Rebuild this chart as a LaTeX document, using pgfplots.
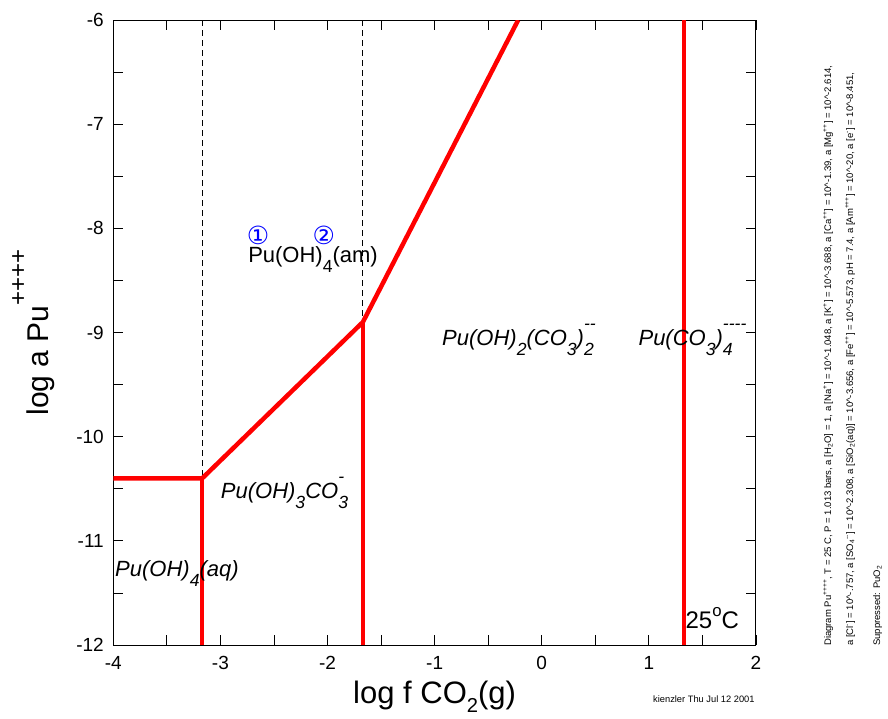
\documentclass[border=0pt]{standalone}
\usepackage{fontspec}
\setmainfont{Liberation Sans}
\newfontfamily\dejavu{DejaVu Sans}
\usepackage{graphicx}
\usepackage{pgfplots}
\pgfplotsset{compat=1.18}
\newcommand{\sub}[1]{\raisebox{-0.47em}{\scalebox{0.8}{#1}}}
\newcommand{\sups}[1]{\raisebox{0.72em}{\scalebox{0.8}{#1}}}
\newcommand{\subsup}[2]{\makebox[0pt][l]{\sub{#1}}\sups{#2}}
\begin{document}
\begin{tikzpicture}
\useasboundingbox (-113.3pt,-73pt) rectangle (774.7pt,645pt);
\begin{axis}[
  at={(0pt,0pt)}, anchor=south west,
  width=642.7pt, height=625pt, scale only axis,
  xmin=-4, xmax=2, ymin=-12, ymax=-6,
  xtick={-4,-3,-2,-1,0,1,2}, xticklabels={-4,-3,-2,-1,0,1,2},
  ytick={-12,-11,-10,-9,-8,-7,-6}, yticklabels={-12,-11,-10,-9,-8,-7,-6},
  minor x tick num=1, minor y tick num=1,
  tick align=inside,
  major tick length=10pt, minor tick length=10pt,
  every tick/.style={black, line width=0.8pt},
  axis line style={line width=1pt},
  tick label style={font=\fontsize{19}{22}\selectfont},
  xticklabel style={yshift=-8pt},
  yticklabel style={xshift=-6pt},
  clip mode=individual,
  xlabel={log f CO\raisebox{-0.28em}{\scalebox{0.65}{2}}(g)},
  x label style={font=\fontsize{31}{34}\selectfont, at={(axis description cs:0.5,-0.094)}, anchor=base, inner sep=0pt},
  ylabel={log a Pu\raisebox{0.75em}{\scalebox{0.8}{++++}}},
  y label style={font=\fontsize{30}{34}\selectfont, at={(axis description cs:-0.1008,0.5)}, anchor=base, inner sep=0pt},
]
% dashed boundaries
\addplot[black, line width=0.8pt, dash pattern=on 6pt off 4pt] coordinates {(-3.17,-6) (-3.17,-10.4)};
\addplot[black, line width=0.8pt, dash pattern=on 6pt off 4pt] coordinates {(-1.67,-6) (-1.67,-8.9)};
% red boundaries
\addplot[red, line width=4.5pt, line join=miter] coordinates {(-4,-10.4) (-3.17,-10.4) (-1.67,-8.9) (-0.22,-6)};
\addplot[red, line width=4.5pt] coordinates {(-3.17,-10.4) (-3.17,-12)};
\addplot[red, line width=4.5pt] coordinates {(-1.67,-8.9) (-1.67,-12)};
\addplot[red, line width=4.5pt] coordinates {(1.33,-6) (1.33,-12)};
% labels
\node[anchor=base west, inner sep=0pt, font=\fontsize{22}{26}\selectfont] at (axis cs:-2.742,-8.329) {Pu(OH)\sub{4}(am)};
\node[anchor=center, inner sep=0pt, text=blue, font=\dejavu\fontsize{25}{27}\selectfont] at (axis cs:-2.649,-8.063) {①};
\node[anchor=center, inner sep=0pt, text=blue, font=\dejavu\fontsize{25}{27}\selectfont] at (axis cs:-2.034,-8.063) {②};
\node[anchor=base west, inner sep=0pt, font=\fontsize{22}{26}\selectfont\itshape] at (axis cs:-0.931,-9.126) {Pu(OH)\sub{2}(CO\sub{3})\subsup{2}{-{}-}};
\node[anchor=base west, inner sep=0pt, font=\fontsize{22}{26}\selectfont\itshape] at (axis cs:0.902,-9.126) {Pu(CO\sub{3})\subsup{4}{-{}-{}-{}-}};
\node[anchor=base west, inner sep=0pt, font=\fontsize{22}{26}\selectfont\itshape] at (axis cs:-2.997,-10.590) {Pu(OH)\sub{3}CO\subsup{3}{-}};
\node[anchor=base west, inner sep=0pt, font=\fontsize{22}{26}\selectfont\itshape] at (axis cs:-3.984,-11.342) {Pu(OH)\sub{4}(aq)};
\node[anchor=base west, inner sep=0pt, font=\fontsize{24}{28}\selectfont] at (axis cs:1.341,-11.845) {25\raisebox{0.5em}{\scalebox{0.7}{o}}C};
\end{axis}
% side notes
\begin{scope}[every node/.style={inner sep=0pt, rotate=90, anchor=base west, font=\fontsize{9.5}{11}\selectfont}]
\node at (717.7pt,-1pt) {Diagram Pu\textsuperscript{++++}, T = 25 C, P = 1.013 bars, a [H\textsubscript{2}O] = 1, a [Na\textsuperscript{+}] = 10\textasciicircum{}-1.048, a [K\textsuperscript{+}] = 10\textasciicircum{}-3.688, a [Ca\textsuperscript{++}] = 10\textasciicircum{}-1.39, a [Mg\textsuperscript{++}] = 10\textasciicircum{}-2.614,};
\node at (739.7pt,-1pt) {a [Cl\textsuperscript{-}] = 10\textasciicircum{}-.757, a [SO\textsubscript{4}\textsuperscript{-{}-}] = 10\textasciicircum{}-2.308, a [SiO\textsubscript{2}(aq)] = 10\textasciicircum{}-3.656, a [Fe\textsuperscript{++}] = 10\textasciicircum{}-5.573, pH = 7.4, a [Am\textsuperscript{+++}] = 10\textasciicircum{}-20, a [e\textsuperscript{-}] = 10\textasciicircum{}-8.451,};
\node at (766.7pt,-1pt) {Suppressed: PuO\textsubscript{2}};
\end{scope}
\node[inner sep=0pt, anchor=base west, font=\fontsize{9.3}{11}\selectfont] at (539.7pt,-57pt) {kienzler Thu Jul 12 2001};
\end{tikzpicture}
\end{document}
